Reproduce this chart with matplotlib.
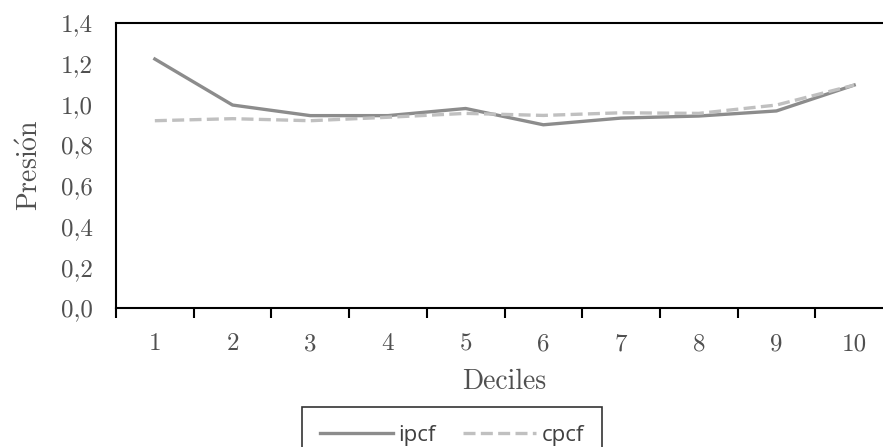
import matplotlib.pyplot as plt

plt.rcParams['mathtext.fontset'] = 'cm'

deciles = [1, 2, 3, 4, 5, 6, 7, 8, 9, 10]
ipcf = [1.223, 0.997, 0.945, 0.945, 0.980, 0.900, 0.933, 0.943, 0.968, 1.095]
cpcf = [0.920, 0.930, 0.920, 0.937, 0.956, 0.946, 0.959, 0.956, 0.997, 1.095]
yticks = [0.0, 0.2, 0.4, 0.6, 0.8, 1.0, 1.2, 1.4]
ylabels = ['0,0', '0,2', '0,4', '0,6', '0,8', '1,0', '1,2', '1,4']

serif = ['cmr10', 'DejaVu Serif']

fig = plt.figure(figsize=(8.83, 4.47), dpi=100)
# axes run past the right edge of the picture, as in the original
ax = fig.add_axes([116 / 883, 1 - 308 / 447, 777 / 883, 285 / 447])

ax.plot(deciles, ipcf, color='#8c8c8c', linewidth=2.4, label='ipcf')
ax.plot(deciles, cpcf, color='#c0c0c0', linewidth=2.4, dashes=(3.6, 1.6), label='cpcf')

ax.set_xlim(0.5, 10.5)
ax.set_ylim(0, 1.4)
ax.set_xticks([d - 0.5 for d in deciles] + [10.5])
ax.set_xticklabels([])
ax.set_xticks(deciles, minor=True)
ax.set_xticklabels([str(d) for d in deciles], minor=True, family=serif, fontsize=18, color='#505050')
ax.tick_params(axis='x', which='major', direction='out', length=7, width=1.5, color='black')
ax.tick_params(axis='x', which='minor', length=0, pad=18)
ax.set_yticks(yticks)
ax.set_yticklabels(ylabels, family=serif, fontsize=18, color='#505050')
ax.tick_params(axis='y', length=0, pad=17)

for s in ax.spines.values():
    s.set_linewidth(1.5)
    s.set_color('black')

ax.set_xlabel('Deciles', family=serif, fontsize=20, color='#505050', labelpad=10)
ax.set_ylabel(r'Presi$\mathrm{\acute{o}}$n', family=serif, fontsize=20, color='#505050', labelpad=12)

leg = fig.legend(loc='upper left', bbox_to_anchor=(302 / 883, 1 - 407 / 447), ncol=2,
                 frameon=True, fancybox=False, edgecolor='black', borderaxespad=0,
                 handlelength=3.3, handletextpad=0.25, columnspacing=1.2, borderpad=0.8,
                 prop={'family': 'Open Sans', 'size': 16})
leg.get_frame().set_linewidth(1.2)
for t in leg.get_texts():
    t.set_color('#404040')

fig.savefig('out.png', dpi=100)
